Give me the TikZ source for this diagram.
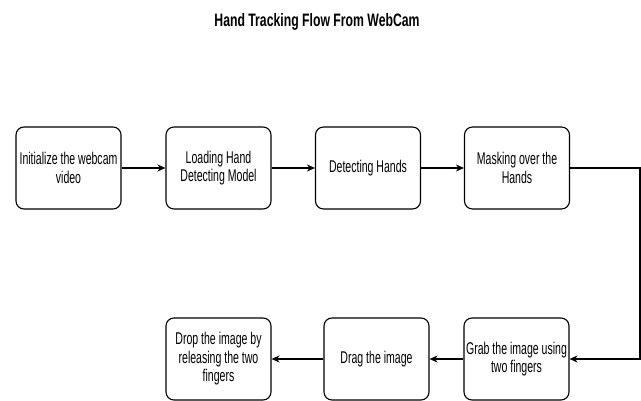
\documentclass[tikz,border=0pt]{standalone}
\usepackage{fontspec}
\setmainfont{Liberation Sans}[FakeStretch=0.62]
\newfontfamily\titlefont{Liberation Sans}[FakeStretch=0.68]
\usetikzlibrary{arrows.meta}
\begin{document}
\begin{tikzpicture}[x=1pt,y=-1pt,
  stepbox/.style={draw=black, line width=1.1pt, rounded corners=8pt, minimum width=105pt, minimum height=82pt, align=center, inner sep=1pt, font=\fontsize{17}{18.5}\selectfont},
  flow/.style={draw=black, line width=1.1pt, -{Stealth[length=8pt,width=7pt,inset=2.5pt]}}]
\useasboundingbox (0,0) rectangle (641,401);
\node[font=\titlefont\bfseries\fontsize{18}{20}\selectfont] (title) at (317,22) {Hand Tracking Flow From WebCam};
\node[stepbox] (b1) at (68.5,168) {Initialize the webcam\\video};
\node[stepbox] (b2) at (218.5,168) {Loading Hand\\Detecting Model};
\node[stepbox] (b3) at (368,168) {Detecting Hands};
\node[stepbox] (b4) at (517,168) {Masking over the\\Hands};
\node[stepbox] (grab) at (516.5,359) {Grab the image using\\two fingers};
\node[stepbox] (drag) at (376.5,359) {Drag the image};
\node[stepbox] (drop) at (218.5,359) {Drop the image by\\releasing the two\\fingers};
\coordinate (corner) at (640,168);
\draw[flow] (b1) -- (b2);
\draw[flow] (b2) -- (b3);
\draw[flow] (b3) -- (b4);
\draw[flow] (b4.east) -- (corner) |- (grab.east);
\draw[flow] (grab) -- (drag);
\draw[flow] (drag) -- (drop);
\end{tikzpicture}
\end{document}
